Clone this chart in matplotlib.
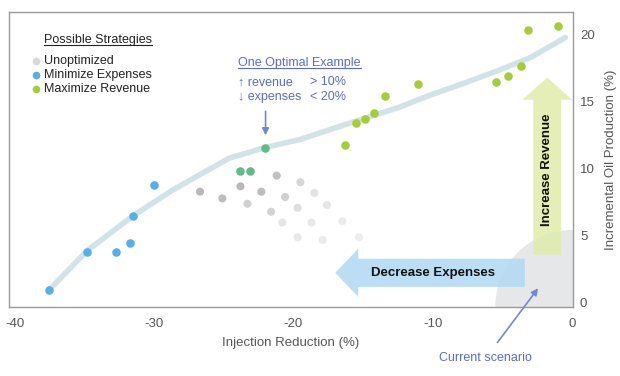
import matplotlib
matplotlib.use("Agg")
import matplotlib.pyplot as plt
from matplotlib.patches import FancyArrow, Ellipse
from matplotlib.lines import Line2D

plt.rcParams['font.family'] = ['Liberation Sans', 'DejaVu Sans']
plt.rcParams['axes.unicode_minus'] = False

################################################################################
# Data.                                       #
################################################################################

# Unoptimized strategies (grey, fading to the right).
unopt_x = [-26.7, -25.1, -23.8, -22.3, -21.2, -20.6, -19.5, -23.3, -21.6,
           -19.7, -18.5, -17.6, -20.8, -18.7, -16.5, -19.7, -17.9, -15.3]
unopt_y = [8.3, 7.8, 8.7, 8.3, 9.5, 7.9, 9.0, 7.4, 6.8,
           7.1, 8.2, 7.3, 6.0, 6.0, 6.1, 4.9, 4.7, 4.9]
unopt_shade = ['#b9b9b9', '#bdbdbd', '#b9b9b9', '#bdbdbd', '#c2c2c2', '#cfcfcf',
               '#d6d6d6', '#d0d0d0', '#d3d3d3', '#dedede', '#e3e3e3', '#e6e6e6',
               '#e6e6e6', '#e8e8e8', '#ebebeb', '#e8e8e8', '#ebebeb', '#eeeeee']

# Minimize expenses (blue).
minexp_x = [-37.5, -34.8, -32.7, -31.7, -31.5, -30.0]
minexp_y = [1.0, 3.8, 3.8, 4.5, 6.5, 8.8]

# Points where both overlap (teal).
both_x = [-23.85, -23.1, -22.05]
both_y = [9.85, 9.85, 11.55]

# Maximize revenue (green).
maxrev_x = [-16.3, -15.5, -14.9, -14.2, -13.4, -11.1, -5.5, -4.6, -3.7, -3.2, -1.0]
maxrev_y = [11.8, 13.4, 13.7, 14.2, 15.4, 16.3, 16.5, 16.9, 17.7, 20.35, 20.65]

# Pareto trend line.
front_x = [-37.5, -34.8, -31.5, -28.7, -26.5, -24.6, -22.0, -19.5, -16.0,
           -12.4, -10.2, -8.0, -5.4, -3.0, -0.5]
front_y = [1.0, 3.9, 6.5, 8.4, 9.7, 10.8, 11.6, 12.2, 13.4,
           14.6, 15.5, 16.3, 17.3, 18.3, 19.8]

xticks = [-40, -30, -20, -10, 0]
yticks = [0, 5, 10, 15, 20]

################################################################################
# Plot.                                                                        #
################################################################################

W, H = 620, 376
fig = plt.figure(figsize=(W / 100, H / 100), dpi=100)
ax = fig.add_axes([9 / W, 1 - 307 / H, 564 / W, 295 / H])
ax.set_xlim(-40.4, 0.05)
ax.set_ylim(-0.3, 21.7)

blue_txt = '#5b6cc5'
grey_txt = '#555555'

# Current scenario region.
ax.add_patch(Ellipse((0.0, -0.3), 11.05, 11.5, color='#e6e7e8', lw=0, zorder=0))

# Trend line.
ax.plot(front_x, front_y, '-', color='#d2e3e8', lw=4, solid_capstyle='round',
        solid_joinstyle='round', zorder=1)

# Points.
ax.scatter(unopt_x, unopt_y, s=34, c=unopt_shade, lw=0, zorder=2)
ax.scatter(minexp_x, minexp_y, s=38, c='#5aaee6', lw=0, zorder=3)
ax.scatter(both_x, both_y, s=38, c='#63b98c', lw=0, zorder=3)
ax.scatter(maxrev_x, maxrev_y, s=38, c='#a6cb3c', lw=0, zorder=3)

# Big arrows.
ax.add_patch(FancyArrow(-3.4, 2.25, -13.6, 0, width=2.1, head_width=3.6,
                        head_length=1.65, length_includes_head=True,
                        color='#b0d9f4', alpha=0.85, lw=0, zorder=4))
ax.text(-10.0, 2.25, 'Decrease Expenses', ha='center', va='center',
        fontsize=9.5, fontweight='bold', color='#111111', zorder=5)

ax.add_patch(FancyArrow(-1.8, 3.6, 0, 13.2, width=2.0, head_width=3.6,
                        head_length=1.65, length_includes_head=True,
                        color='#e0ecaa', alpha=0.85, lw=0, zorder=4))
ax.text(-1.8, 9.9, 'Increase Revenue', ha='center', va='center', rotation=90,
        fontsize=9.5, fontweight='bold', color='#111111', zorder=5)

# Annotations.
ax.annotate('', xy=(-22.0, 12.3), xytext=(-22.0, 14.5),
            arrowprops=dict(arrowstyle='-|>', color='#7587cf', lw=1.2,
                            mutation_scale=10), zorder=6)
ax.annotate('Current scenario', xy=(-2.45, 1.1), xytext=(-6.2, -4.1),
            ha='center', va='center', fontsize=9, color=blue_txt,
            arrowprops=dict(arrowstyle='-|>', color='#7587cf', lw=1.2,
                            mutation_scale=10, shrinkA=6, shrinkB=0),
            annotation_clip=False, zorder=6)

# Axes styling.
for s in ax.spines.values():
    s.set_color('#9a9a9a')
    s.set_linewidth(1.0)
ax.yaxis.tick_right()
ax.yaxis.set_label_position('right')
ax.set_xticks(xticks)
ax.set_yticks(yticks)
ax.tick_params(axis='both', length=0, labelsize=9.5, labelcolor=grey_txt)
ax.tick_params(axis='x', pad=8)
ax.tick_params(axis='y', pad=5)
ax.set_xlabel('Injection Reduction (%)', fontsize=9.5, color=grey_txt, labelpad=5)
ax.set_ylabel('Incremental Oil Production (%)', fontsize=9.5, color=grey_txt, labelpad=7)


def px(x, y):
    return x / W, 1 - y / H


# Legend and example text.
texts = []
t = fig.text(*px(44, 40), 'Possible Strategies', fontsize=9, color='#222222', va='center')
texts.append((t, '#222222'))
leg_items = [('Unoptimized', '#d9d9d9', 61), ('Minimize Expenses', '#5aaee6', 75),
             ('Maximize Revenue', '#a6cb3c', 89)]
for name, col, y in leg_items:
    fig.text(*px(44, y), name, fontsize=9, color='#222222', va='center')
    fig.add_artist(Line2D([px(36, y)[0]], [px(36, y)[1]], marker='o', ms=5.5,
                          color=col, mec='none', transform=fig.transFigure))

t = fig.text(*px(238, 63), 'One Optimal Example', fontsize=9, color=blue_txt, va='center')
texts.append((t, blue_txt))
fig.text(*px(238, 82), '\u2191 revenue', fontsize=9, color=blue_txt, va='center')
fig.text(*px(310, 82), '> 10%', fontsize=9, color=blue_txt, va='center')
fig.text(*px(238, 97), '\u2193 expenses', fontsize=9, color=blue_txt, va='center')
fig.text(*px(310, 97), '< 20%', fontsize=9, color=blue_txt, va='center')

# Underlines.
fig.canvas.draw()
r = fig.canvas.get_renderer()
for t, col in texts:
    bb = t.get_window_extent(renderer=r).transformed(fig.transFigure.inverted())
    fig.add_artist(Line2D([bb.x0, bb.x1], [bb.y0 + 0.002, bb.y0 + 0.002],
                          color=col, lw=0.8, transform=fig.transFigure))

# Save figure.
fig.savefig('out.png', dpi=100)
plt.close()
